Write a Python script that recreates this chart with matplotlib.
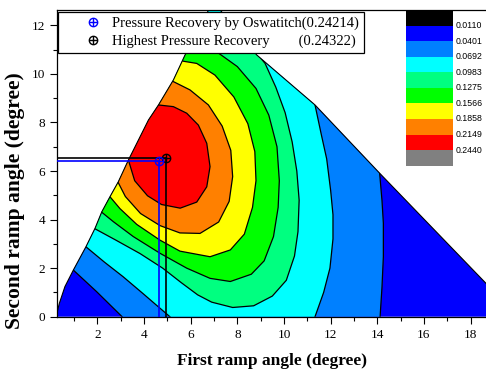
import matplotlib.pyplot as plt
from matplotlib.patches import Polygon
from matplotlib.lines import Line2D
from matplotlib.legend_handler import HandlerTuple

plt.rcParams['font.family'] = ['Liberation Serif', 'DejaVu Serif']

# pressure recovery levels and the band colours between them (low -> high)
levels = [0.0110, 0.0401, 0.0692, 0.0983, 0.1275, 0.1566, 0.1858, 0.2149, 0.2440]
band_colors = ['#000000', '#0000ff', '#0080ff', '#00ffff', '#00ff80',
               '#00ff00', '#ffff00', '#ff8000', '#ff0000', '#808080']

# limits of the valid ramp combinations (first ramp, second ramp) in degrees
left_edge = [(0.23, 0.0), (0.37, 0.55), (0.61, 1.24), (0.97, 1.92), (1.51, 2.88),
             (1.90, 3.64), (2.19, 4.32), (2.54, 4.94), (2.90, 5.56), (3.33, 6.45),
             (4.19, 8.10), (4.62, 8.72), (5.26, 9.75), (5.76, 10.78), (6.40, 11.90),
             (6.95, 13.00)]
right_edge = [(6.95, 13.00), (8.83, 10.78), (11.33, 8.72), (14.10, 5.91), (20.04, 0.0)]

# isolines of pressure recovery, traced in (first ramp, second ramp)
pr_0401_left = [(0.90, 1.98), (0.97, 1.92), (1.97, 1.03), (3.06, 0.0), (3.10, -0.1)]
pr_0401_right = [(14.12, -0.1), (14.12, 0.0), (14.20, 1.20), (14.26, 2.47),
                 (14.26, 3.85), (14.20, 4.80), (14.10, 5.91), (14.20, 5.98)]
pr_0692_left = [(1.45, 2.95), (1.51, 2.88), (2.30, 2.25), (3.10, 1.65), (3.96, 0.95),
                (4.60, 0.42), (5.11, 0.0), (5.20, -0.1)]
pr_0692_right = [(11.28, -0.1), (11.33, 0.0), (11.70, 1.00), (11.97, 2.00),
                 (12.10, 3.20), (12.10, 4.20), (12.00, 5.20), (11.83, 6.50),
                 (11.60, 7.50), (11.33, 8.72), (11.45, 8.78)]
pr_0983 = [(1.80, 3.70), (1.86, 3.64), (2.80, 3.15), (3.83, 2.60), (4.80, 2.00),
           (5.60, 1.40), (6.30, 0.90), (6.90, 0.60), (7.80, 0.38), (8.70, 0.45),
           (9.50, 0.85), (10.10, 1.50), (10.45, 2.50), (10.60, 3.50), (10.65, 4.80),
           (10.55, 6.00), (10.35, 7.20), (10.05, 8.40), (9.65, 9.45), (9.19, 10.43),
           (8.83, 10.85), (8.00, 11.50), (7.20, 12.10), (6.50, 12.30)]
pr_1275 = [(2.10, 4.36), (2.19, 4.30), (2.69, 3.91), (3.54, 3.30), (4.69, 2.61),
           (5.83, 2.00), (6.83, 1.58), (7.70, 1.45), (8.60, 1.75), (9.15, 2.30),
           (9.55, 3.30), (9.75, 4.50), (9.80, 5.60), (9.70, 7.00), (9.35, 8.30),
           (8.80, 9.40), (8.00, 10.30), (7.20, 10.85), (6.70, 11.30), (6.20, 11.60)]
pr_1566 = [(2.45, 5.00), (2.54, 4.94), (2.97, 4.45), (3.69, 3.80), (4.69, 3.15),
           (5.54, 2.70), (6.83, 2.47), (7.70, 2.75), (8.30, 3.40), (8.65, 4.50),
           (8.80, 5.60), (8.75, 6.80), (8.45, 7.95), (7.85, 9.05), (7.04, 9.95),
           (6.26, 10.43), (5.69, 10.52), (5.60, 10.56)]
pr_1858 = [(2.80, 5.60), (2.88, 5.55), (3.20, 4.95), (3.85, 4.25), (4.69, 3.75),
           (5.54, 3.45), (6.40, 3.43), (7.20, 3.90), (7.65, 4.75), (7.80, 5.77),
           (7.72, 6.85), (7.35, 7.85), (6.76, 8.72), (5.97, 9.34), (5.22, 9.70),
           (5.12, 9.74)]
pr_2149 = [(3.25, 6.50), (3.33, 6.45), (3.60, 5.60), (4.15, 4.98), (4.75, 4.62),
           (5.55, 4.47), (6.26, 4.72), (6.69, 5.35), (6.83, 6.18), (6.69, 7.14),
           (6.33, 7.89), (5.83, 8.38), (5.26, 8.65), (4.62, 8.72), (4.52, 8.76)]

# design points
oswatitsch_pt = (4.66, 6.42)
highest_pt = (4.95, 6.55)

fig = plt.figure(figsize=(4.86, 3.73), dpi=100)
ax = fig.add_axes([0.1173, 0.1509, 0.8827, 0.8223])
ax.set_xlim(0.27, 18.66)
ax.set_ylim(0, 12.63)

domain = Polygon(left_edge + right_edge[1:], closed=True, facecolor=band_colors[1],
                 edgecolor='none', zorder=1)
ax.add_patch(domain)


def fill_band(points, color):
    patch = Polygon(points, closed=True, facecolor=color, edgecolor='none', zorder=1)
    ax.add_patch(patch)
    patch.set_clip_path(domain)


def isoline(points):
    xs, ys = zip(*points)
    ln, = ax.plot(xs, ys, color='black', lw=0.9, zorder=2)
    ln.set_clip_path(domain)


# two-branch levels: keep everything between the left and right branches
for left, right, color in [(pr_0401_left, pr_0401_right, band_colors[2]),
                           (pr_0692_left, pr_0692_right, band_colors[3])]:
    fill_band(left + right + [(30, 30), (-5, 30), (-5, left[0][1])], color)

# closed levels around the optimum, closed along the left edge
for pts, color in [(pr_0983, band_colors[4]), (pr_1275, band_colors[5]),
                   (pr_1566, band_colors[6]), (pr_1858, band_colors[7]),
                   (pr_2149, band_colors[8])]:
    fill_band(pts + [(-5, pts[-1][1]), (-5, pts[0][1])], color)

for pts in [pr_0401_left, pr_0401_right, pr_0692_left, pr_0692_right,
            pr_0983, pr_1275, pr_1566, pr_1858, pr_2149]:
    isoline(pts)

for edge in [left_edge, right_edge]:
    ex, ey = zip(*edge)
    ax.plot(ex, ey, color='black', lw=0.8, zorder=3)

# drop lines to the axes
for (px, py), c in [(highest_pt, 'black'), (oswatitsch_pt, 'blue')]:
    ax.plot([0.27, px], [py, py], color=c, lw=1.2, zorder=4)
    ax.plot([px, px], [0, py], color=c, lw=1.2, zorder=4)
    ax.plot(px, py, marker='o', ms=6, mfc='none', mec=c, mew=1.0, zorder=5)
    ax.plot(px, py, marker='+', ms=6, color=c, mew=1.0, zorder=5)

ax.set_xticks(range(2, 19, 2))
ax.set_xticks(range(1, 19, 2), minor=True)
ax.set_yticks(range(0, 13, 2))
ax.set_yticks(range(1, 13, 2), minor=True)
ax.tick_params(which='major', direction='out', length=5, width=0.8, labelsize=9.5)
ax.tick_params(which='minor', direction='out', length=3, width=0.8)
ax.spines['right'].set_visible(False)
for s in ['left', 'bottom', 'top']:
    ax.spines[s].set_linewidth(0.9)

fig.text(0.56, 0.033, 'First ramp angle (degree)', ha='center', va='center',
         fontsize=12.5, fontweight='bold')
fig.text(0.031, 0.4625, 'Second ramp angle (degree)', ha='center', va='center',
         rotation=90, fontsize=15.5, fontweight='bold')

h_blue = (Line2D([], [], ls='', marker='o', ms=6, mfc='none', mec='blue'),
          Line2D([], [], ls='', marker='+', ms=6, color='blue'))
h_black = (Line2D([], [], ls='', marker='o', ms=6, mfc='none', mec='black'),
           Line2D([], [], ls='', marker='+', ms=6, color='black'))
leg = ax.legend([h_blue, h_black],
                ['Pressure Recovery by Oswatitch(0.24214)',
                 'Highest Pressure Recovery' + ' ' * 8 + '(0.24322)'],
                handler_map={tuple: HandlerTuple(ndivide=1)},
                loc='upper left', bbox_to_anchor=(0.003, 0.995), fontsize=10.5,
                frameon=True, fancybox=False, framealpha=1, borderaxespad=0,
                handlelength=4.0, handletextpad=-0.65, labelspacing=0.3,
                borderpad=0.35)
leg.get_frame().set_edgecolor('black')
leg.get_frame().set_linewidth(0.9)
leg.set_zorder(10)

# colour scale
cax = fig.add_axes([0.8354, 0.5558, 0.0961, 0.4174])
for k, c in enumerate(band_colors):
    cax.bar(0, 1, bottom=9 - k, width=1, color=c, edgecolor='none')
for k, lev in enumerate(levels):
    cax.text(0.57, 9 - k, f'{lev:.4f}', ha='left', va='center', fontsize=6.3,
             family='Liberation Sans')
cax.set_xlim(-0.5, 0.5)
cax.set_ylim(0, 10)
cax.axis('off')

fig.savefig('out.png', dpi=100)
